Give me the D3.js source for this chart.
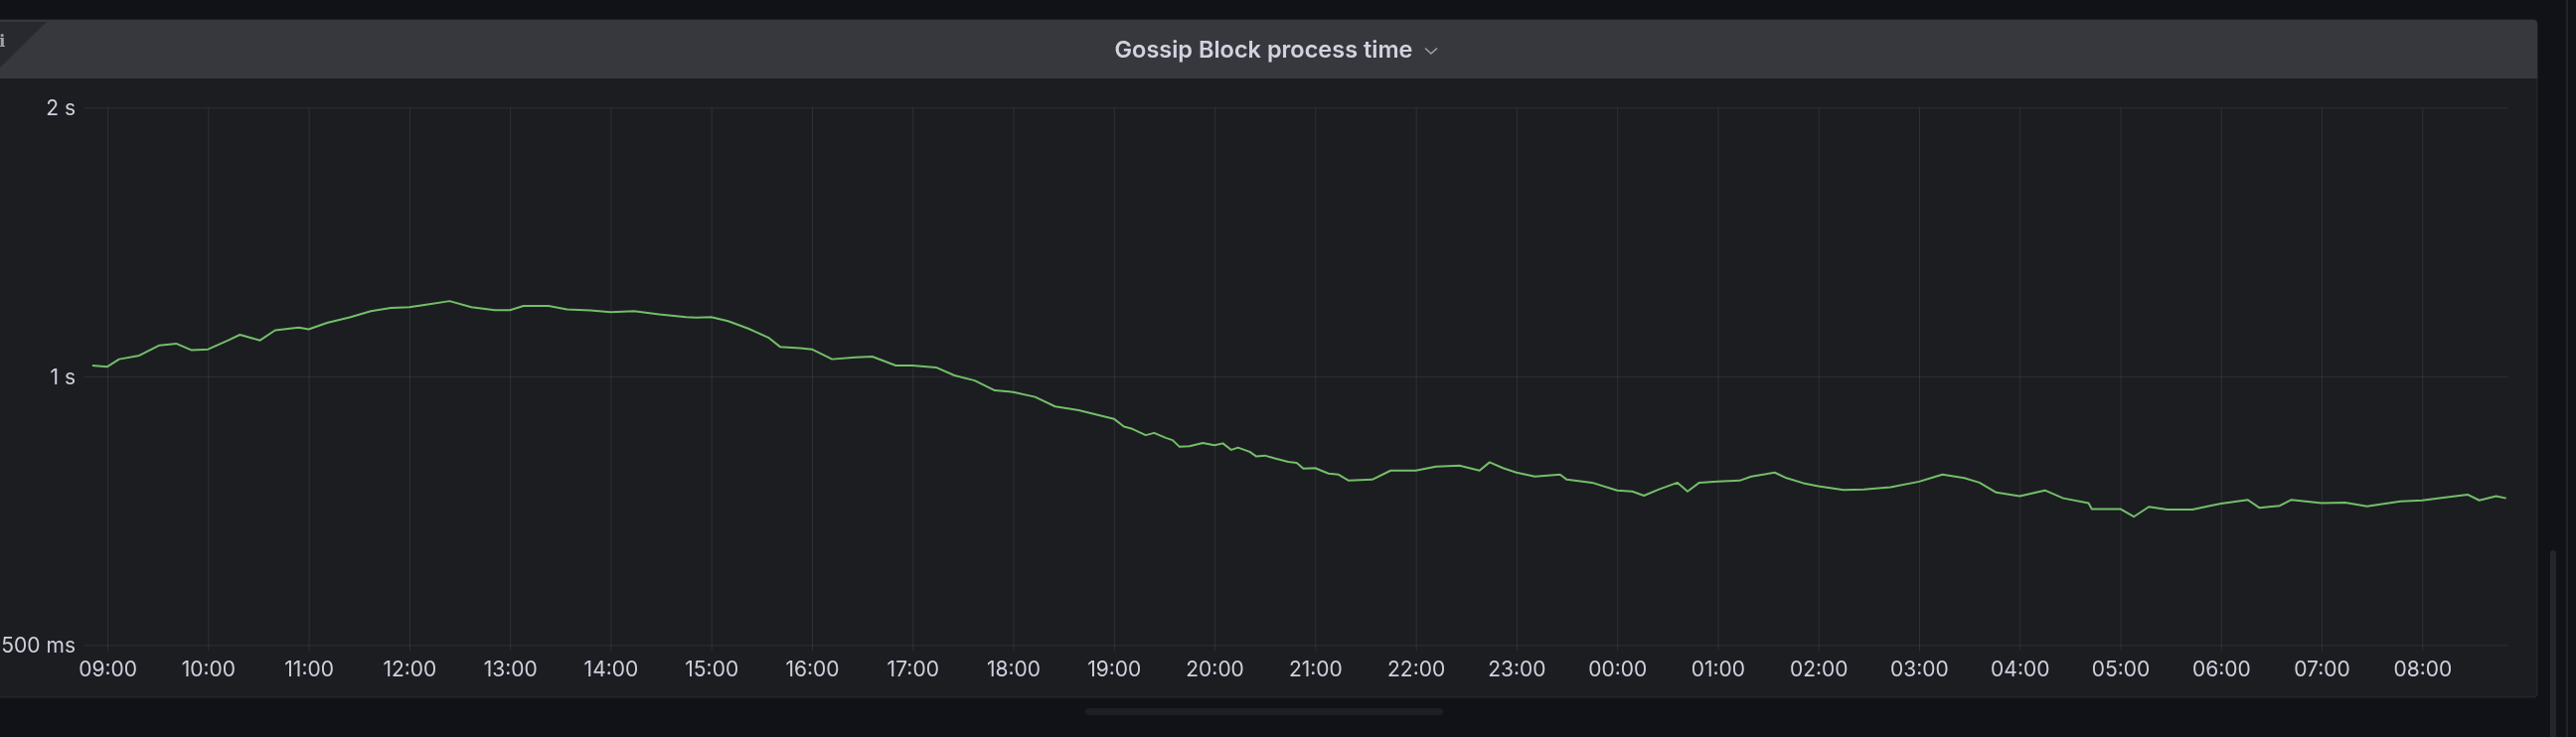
<!DOCTYPE html>
<html>
  <head>
    <meta charset="utf-8" />
    <title>Gossip Block process time</title>
    <script src="https://d3js.org/d3.v7.min.js"></script>
    <style>
      html, body {
        margin: 0;
        padding: 0;
        background: #111217;
        overflow: hidden;
      }
      #chart {
        position: fixed;
        left: 0px;
        top: 0px;
        width: 2592px;
        height: 742px;
      }
      text {
        font-family: "Inter", "Roboto", sans-serif;
      }
    </style>
  </head>
  <body>
    <div id="chart"></div>

    <script>
      // Values (time of day, milliseconds).
      const times = [
        "08:51", "09:00", "09:07", "09:19", "09:31", "09:41", "09:50", "10:00", "10:12", "10:19",
        "10:31", "10:40", "10:54", "11:00", "11:11", "11:25", "11:37", "11:49", "12:00", "12:10",
        "12:24", "12:37", "12:51", "13:00", "13:08", "13:23", "13:34", "13:48", "14:00", "14:14",
        "14:29", "14:45", "14:51", "15:00", "15:10", "15:22", "15:34", "15:41", "15:53", "16:00",
        "16:12", "16:26", "16:36", "16:50", "17:00", "17:14", "17:25", "17:37", "17:49", "18:00",
        "18:13", "18:25", "18:39", "19:00", "19:06", "19:11", "19:19", "19:24", "19:31", "19:35",
        "19:39", "19:45", "19:53", "20:00", "20:05", "20:10", "20:14", "20:21", "20:25", "20:30",
        "20:36", "20:44", "20:49", "20:53", "21:00", "21:08", "21:14", "21:20", "21:34", "21:45",
        "22:00", "22:12", "22:26", "22:38", "22:44", "22:52", "23:00", "23:11", "23:26", "23:30",
        "23:45", "00:00", "00:09", "00:16", "00:25", "00:36", "00:42", "00:49", "01:00", "01:13",
        "01:20", "01:34", "01:41", "01:51", "02:00", "02:15", "02:27", "02:43", "03:00", "03:10",
        "03:14", "03:27", "03:36", "03:46", "04:00", "04:15", "04:26", "04:41", "04:43", "05:00",
        "05:08", "05:17", "05:28", "05:43", "05:52", "06:00", "06:16", "06:23", "06:35", "06:42",
        "07:00", "07:14", "07:27", "07:47", "08:00", "08:15", "08:27", "08:34", "08:44", "08:50"
      ];
      const processMs = [
        1028, 1025, 1045, 1055, 1083, 1088, 1070, 1072, 1097, 1113,
        1097, 1126, 1134, 1129, 1148, 1165, 1183, 1193, 1195, 1203,
        1214, 1195, 1186, 1186, 1199, 1199, 1188, 1185, 1180, 1183,
        1173, 1165, 1163, 1165, 1153, 1131, 1105, 1079, 1075, 1072,
        1045, 1050, 1052, 1028, 1028, 1023, 1002, 989, 964, 960,
        948, 925, 916, 896, 878, 873, 859, 864, 853, 848,
        834, 835, 842, 837, 841, 827, 832, 823, 813, 815,
        809, 802, 800, 788, 789, 778, 776, 764, 766, 784,
        784, 792, 794, 784, 801, 789, 780, 772, 776, 766,
        760, 745, 743, 735, 747, 760, 743, 760, 762, 764,
        772, 780, 769, 759, 753, 746, 747, 751, 762, 772,
        776, 769, 760, 741, 734, 745, 730, 721, 710, 710,
        696, 714, 709, 709, 715, 720, 727, 712, 716, 727,
        721, 722, 715, 724, 726, 732, 737, 726, 734, 730
      ];
      const yTicks = [500, 1000, 2000];
      const yTickLabels = ["500 ms", "1 s", "2 s"];
      const title = "Gossip Block process time";
      const rangeStart = "08:46:20";
      const rangeEnd = "08:50:45";

      const width = 2592;
      const height = 742;
      const plot = { left: 85, right: 2523, top: 108.3, bottom: 649.3 };

      // Turn "HH:MM" strings into dates, rolling to the next day after midnight.
      const day0 = new Date(2024, 0, 1);
      let dayOffset = 0;
      let lastHour = -1;
      const data = times.map((t, i) => {
        const [h, m] = t.split(":").map(Number);
        if (h < lastHour) dayOffset += 1;
        lastHour = h;
        return {
          date: new Date(day0.getFullYear(), day0.getMonth(), day0.getDate() + dayOffset, h, m),
          value: processMs[i]
        };
      });
      const parseRange = (s, d) => {
        const [h, m, sec] = s.split(":").map(Number);
        return new Date(day0.getFullYear(), day0.getMonth(), day0.getDate() + d, h, m, sec);
      };

      const x = d3.scaleTime()
        .domain([parseRange(rangeStart, 0), parseRange(rangeEnd, 1)])
        .range([plot.left, plot.right]);
      const y = d3.scaleLog()
        .domain([500, 2000])
        .range([plot.bottom, plot.top]);

      const svg = d3.select("#chart").append("svg")
        .attr("width", width)
        .attr("height", height);

      // Page chrome: panel, header, scrollbars.
      svg.append("rect")
        .attr("x", -10).attr("y", 20)
        .attr("width", 2563).attr("height", 682)
        .attr("rx", 4)
        .attr("fill", "#1c1d21")
        .attr("stroke", "#2a2b30");
      svg.append("path")
        .attr("d", "M-10,79 V24 Q-10,20 -6,20 H2549 Q2553,20 2553,24 V79 Z")
        .attr("fill", "#37383d");
      svg.append("path")
        .attr("d", "M0,22 H47 L0,68 Z")
        .attr("fill", "#27292e");
      svg.append("text")
        .attr("x", -1).attr("y", 47)
        .attr("fill", "#a0a1a7")
        .style("font-family", "'DejaVu Serif', serif")
        .style("font-weight", "bold")
        .style("font-size", "17px")
        .text("i");

      svg.append("line")
        .attr("x1", 2583).attr("x2", 2583)
        .attr("y1", 0).attr("y2", height)
        .attr("stroke", "#222328").attr("stroke-width", 2);
      svg.append("rect")
        .attr("x", 2566).attr("y", 554)
        .attr("width", 6).attr("height", 200)
        .attr("rx", 3)
        .attr("fill", "#25262b");
      svg.append("rect")
        .attr("x", 1092).attr("y", 713)
        .attr("width", 360).attr("height", 7)
        .attr("rx", 3.5)
        .attr("fill", "#1e1f24");

      // Title and chevron.
      svg.append("text")
        .attr("x", 1271.5).attr("y", 58)
        .attr("text-anchor", "middle")
        .attr("fill", "#d2d2e0")
        .style("font-size", "23.5px")
        .style("font-weight", 600)
        .text(title);
      svg.append("path")
        .attr("d", "M1434,48.5 L1440,54 L1446,48.5")
        .attr("fill", "none")
        .attr("stroke", "#9fa0a6")
        .attr("stroke-width", 1.6);

      // Grid and axes.
      const gridColor = "rgba(204,204,220,0.11)";

      const xAxis = svg.append("g")
        .attr("transform", `translate(0,${plot.bottom})`)
        .call(d3.axisBottom(x)
          .ticks(d3.timeHour.every(1))
          .tickFormat(d3.timeFormat("%H:%M"))
          .tickSize(-(plot.bottom - plot.top))
          .tickPadding(0));
      xAxis.select(".domain").remove();
      xAxis.selectAll(".tick line")
        .attr("y1", 6)
        .attr("stroke", gridColor);
      xAxis.selectAll(".tick text")
        .attr("y", 32)
        .attr("dy", 0)
        .attr("fill", "#d0d0de")
        .style("font-size", "21px")
        .style("font-family", "Inter, Roboto, sans-serif");

      const yAxis = svg.append("g")
        .attr("transform", `translate(${plot.left},0)`)
        .call(d3.axisLeft(y)
          .tickValues(yTicks)
          .tickFormat((d, i) => yTickLabels[i])
          .tickSize(-(plot.right - plot.left))
          .tickPadding(9));
      yAxis.select(".domain").remove();
      yAxis.selectAll(".tick line").attr("stroke", gridColor);
      yAxis.selectAll(".tick text")
        .attr("dy", "0.35em")
        .attr("fill", "#d0d0de")
        .style("font-size", "21px")
        .style("font-family", "Inter, Roboto, sans-serif");

      // The series.
      const line = d3.line()
        .x(d => x(d.date))
        .y(d => y(d.value));
      svg.append("path")
        .datum(data)
        .attr("d", line)
        .attr("fill", "none")
        .attr("stroke", "#73bf69")
        .attr("stroke-width", 2)
        .attr("stroke-linejoin", "round");
    </script>
  </body>
</html>
